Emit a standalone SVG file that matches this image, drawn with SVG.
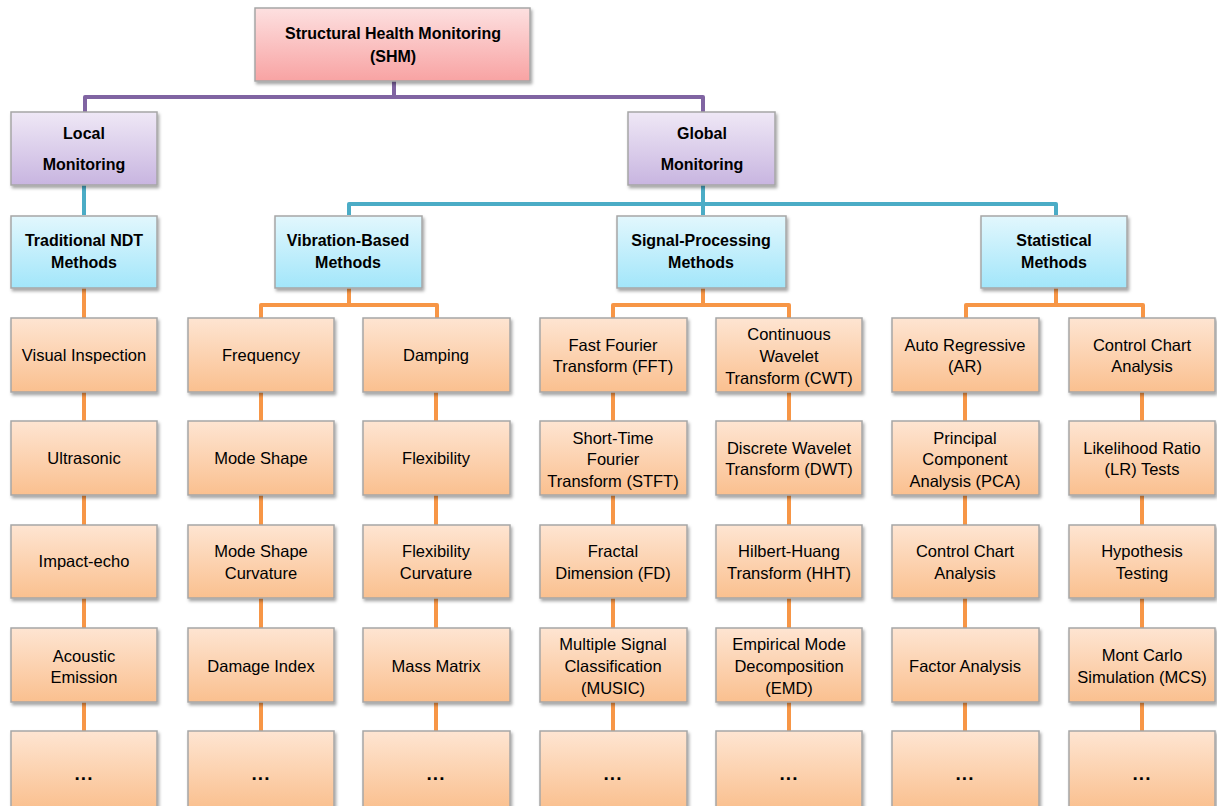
<svg xmlns="http://www.w3.org/2000/svg" width="1217" height="806" viewBox="0 0 1217 806">
<defs>
<linearGradient id="gRoot" x1="0" y1="0" x2="0" y2="1"><stop offset="0" stop-color="#FDE0E0"/><stop offset="1" stop-color="#F8A3A3"/></linearGradient>
<linearGradient id="gMon" x1="0" y1="0" x2="0" y2="1"><stop offset="0" stop-color="#EFE8F6"/><stop offset="1" stop-color="#C8B5E0"/></linearGradient>
<linearGradient id="gCat" x1="0" y1="0" x2="0" y2="1"><stop offset="0" stop-color="#E2F7FD"/><stop offset="1" stop-color="#A2E6FA"/></linearGradient>
<linearGradient id="gLeaf" x1="0" y1="0" x2="0" y2="1"><stop offset="0" stop-color="#FEE5D2"/><stop offset="1" stop-color="#FAC08F"/></linearGradient>
<filter id="sh" x="-10%" y="-10%" width="125%" height="130%"><feDropShadow dx="1.5" dy="2.5" stdDeviation="1.5" flood-color="#000" flood-opacity="0.35"/></filter>
</defs>
<style>
rect{stroke:#A6A6A6;stroke-width:1.5;filter:url(#sh)}
.root rect{fill:url(#gRoot)}
.mon rect{fill:url(#gMon)}
.cat rect{fill:url(#gCat)}
.leaf rect{fill:url(#gLeaf)}
text{font-family:"Liberation Sans",Arial,sans-serif;font-size:16.5px;fill:#000;text-anchor:middle}
.b{font-weight:bold;font-size:16px}
.dots{font-weight:bold;font-size:19px;letter-spacing:1px}
.con path{fill:none;stroke-width:4;stroke-linejoin:round}
.p{stroke:#8064A2}.t{stroke:#4BACC6}.o{stroke:#F79646}
</style>
<g class="con">
<path class="p" d="M394 81V97M85 112V97H703V112"/>
<path class="t" d="M84 185V215M703 185V204M349 215V204H1056V215M703 204V215"/>
<path class="o" d="M84 288V318M349 288V305M261 318V305H437V318M703 288V305M613 318V305H789V318M1056 288V305M966 318V305H1143V318"/>
<path class="o" d="M84 392V421M84 495V525M84 598V628M84 702V731
M261 392V421M261 495V525M261 598V628M261 702V731
M436 392V421M436 495V525M436 598V628M436 702V731
M613 392V421M613 495V525M613 598V628M613 702V731
M789 392V421M789 495V525M789 598V628M789 702V731
M965 392V421M965 495V525M965 598V628M965 702V731
M1142 392V421M1142 495V525M1142 598V628M1142 702V731"/>
</g>
<g id="root" class="root"><rect x="255" y="8" width="275" height="73"/><text class="b" x="393" y="39">Structural Health Monitoring</text><text class="b" x="393" y="62">(SHM)</text></g>
<g id="local" class="mon"><rect x="11" y="112" width="146" height="73"/><text class="b" x="84" y="139">Local</text><text class="b" x="84" y="170">Monitoring</text></g>
<g id="global" class="mon"><rect x="628" y="112" width="147" height="73"/><text class="b" x="702" y="139">Global</text><text class="b" x="702" y="170">Monitoring</text></g>
<g id="ndt" class="cat"><rect x="11" y="216" width="146" height="72"/><text class="b" x="84" y="246">Traditional NDT</text><text class="b" x="84" y="268">Methods</text></g>
<g id="vib" class="cat"><rect x="275" y="216" width="147" height="72"/><text class="b" x="348" y="246">Vibration-Based</text><text class="b" x="348" y="268">Methods</text></g>
<g id="sig" class="cat"><rect x="617" y="216" width="169" height="72"/><text class="b" x="701" y="246">Signal-Processing</text><text class="b" x="701" y="268">Methods</text></g>
<g id="stat" class="cat"><rect x="981" y="216" width="146" height="72"/><text class="b" x="1054" y="246">Statistical</text><text class="b" x="1054" y="268">Methods</text></g>

<g id="c1r1" class="leaf"><rect x="11" y="318" width="146" height="74"/><text x="84" y="361">Visual Inspection</text></g>
<g id="c1r2" class="leaf"><rect x="11" y="421" width="146" height="74"/><text x="84" y="464">Ultrasonic</text></g>
<g id="c1r3" class="leaf"><rect x="11" y="525" width="146" height="73"/><text x="84" y="567">Impact-echo</text></g>
<g id="c1r4" class="leaf"><rect x="11" y="628" width="146" height="74"/><text x="84" y="662">Acoustic</text><text x="84" y="683">Emission</text></g>
<g id="c1r5" class="leaf"><rect x="11" y="731" width="146" height="78"/><text class="dots" x="84" y="780">...</text></g>

<g id="c2r1" class="leaf"><rect x="188" y="318" width="146" height="74"/><text x="261" y="361">Frequency</text></g>
<g id="c2r2" class="leaf"><rect x="188" y="421" width="146" height="74"/><text x="261" y="464">Mode Shape</text></g>
<g id="c2r3" class="leaf"><rect x="188" y="525" width="146" height="73"/><text x="261" y="557">Mode Shape</text><text x="261" y="579">Curvature</text></g>
<g id="c2r4" class="leaf"><rect x="188" y="628" width="146" height="74"/><text x="261" y="672">Damage Index</text></g>
<g id="c2r5" class="leaf"><rect x="188" y="731" width="146" height="78"/><text class="dots" x="261" y="780">...</text></g>

<g id="c3r1" class="leaf"><rect x="363" y="318" width="147" height="74"/><text x="436" y="361">Damping</text></g>
<g id="c3r2" class="leaf"><rect x="363" y="421" width="147" height="74"/><text x="436" y="464">Flexibility</text></g>
<g id="c3r3" class="leaf"><rect x="363" y="525" width="147" height="73"/><text x="436" y="557">Flexibility</text><text x="436" y="579">Curvature</text></g>
<g id="c3r4" class="leaf"><rect x="363" y="628" width="147" height="74"/><text x="436" y="672">Mass Matrix</text></g>
<g id="c3r5" class="leaf"><rect x="363" y="731" width="147" height="78"/><text class="dots" x="436" y="780">...</text></g>

<g id="c4r1" class="leaf"><rect x="540" y="318" width="147" height="74"/><text x="613" y="351">Fast Fourier</text><text x="613" y="372">Transform (FFT)</text></g>
<g id="c4r2" class="leaf"><rect x="540" y="421" width="147" height="74"/><text x="613" y="444">Short-Time</text><text x="613" y="465">Fourier</text><text x="613" y="487">Transform (STFT)</text></g>
<g id="c4r3" class="leaf"><rect x="540" y="525" width="147" height="73"/><text x="613" y="557">Fractal</text><text x="613" y="579">Dimension (FD)</text></g>
<g id="c4r4" class="leaf"><rect x="540" y="628" width="147" height="74"/><text x="613" y="650">Multiple Signal</text><text x="613" y="672">Classification</text><text x="613" y="694">(MUSIC)</text></g>
<g id="c4r5" class="leaf"><rect x="540" y="731" width="147" height="78"/><text class="dots" x="613" y="780">...</text></g>

<g id="c5r1" class="leaf"><rect x="716" y="318" width="146" height="74"/><text x="789" y="340">Continuous</text><text x="789" y="362">Wavelet</text><text x="789" y="384">Transform (CWT)</text></g>
<g id="c5r2" class="leaf"><rect x="716" y="421" width="146" height="74"/><text x="789" y="454">Discrete Wavelet</text><text x="789" y="475">Transform (DWT)</text></g>
<g id="c5r3" class="leaf"><rect x="716" y="525" width="146" height="73"/><text x="789" y="557">Hilbert-Huang</text><text x="789" y="579">Transform (HHT)</text></g>
<g id="c5r4" class="leaf"><rect x="716" y="628" width="146" height="74"/><text x="789" y="650">Empirical Mode</text><text x="789" y="672">Decomposition</text><text x="789" y="694">(EMD)</text></g>
<g id="c5r5" class="leaf"><rect x="716" y="731" width="146" height="78"/><text class="dots" x="789" y="780">...</text></g>

<g id="c6r1" class="leaf"><rect x="892" y="318" width="147" height="74"/><text x="965" y="351">Auto Regressive</text><text x="965" y="372">(AR)</text></g>
<g id="c6r2" class="leaf"><rect x="892" y="421" width="147" height="74"/><text x="965" y="444">Principal</text><text x="965" y="465">Component</text><text x="965" y="487">Analysis (PCA)</text></g>
<g id="c6r3" class="leaf"><rect x="892" y="525" width="147" height="73"/><text x="965" y="557">Control Chart</text><text x="965" y="579">Analysis</text></g>
<g id="c6r4" class="leaf"><rect x="892" y="628" width="147" height="74"/><text x="965" y="672">Factor Analysis</text></g>
<g id="c6r5" class="leaf"><rect x="892" y="731" width="147" height="78"/><text class="dots" x="965" y="780">...</text></g>

<g id="c7r1" class="leaf"><rect x="1069" y="318" width="146" height="74"/><text x="1142" y="351">Control Chart</text><text x="1142" y="372">Analysis</text></g>
<g id="c7r2" class="leaf"><rect x="1069" y="421" width="146" height="74"/><text x="1142" y="454">Likelihood Ratio</text><text x="1142" y="475">(LR) Tests</text></g>
<g id="c7r3" class="leaf"><rect x="1069" y="525" width="146" height="73"/><text x="1142" y="557">Hypothesis</text><text x="1142" y="579">Testing</text></g>
<g id="c7r4" class="leaf"><rect x="1069" y="628" width="146" height="74"/><text x="1142" y="661">Mont Carlo</text><text x="1142" y="683">Simulation (MCS)</text></g>
<g id="c7r5" class="leaf"><rect x="1069" y="731" width="146" height="78"/><text class="dots" x="1142" y="780">...</text></g>
</svg>
